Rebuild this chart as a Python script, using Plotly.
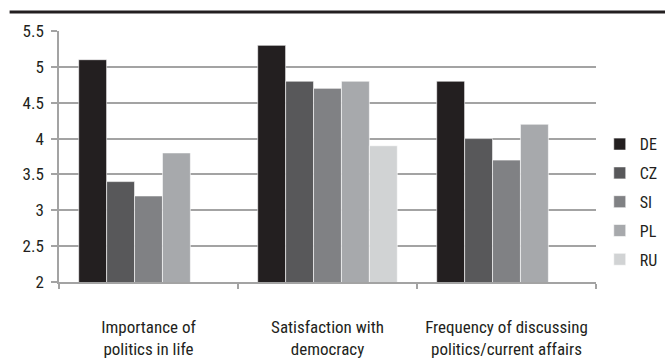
import plotly.graph_objects as go

# Survey items (x categories) and per-country mean scores
categories = [
    "Importance of<br>politics in life",
    "Satisfaction with<br>democracy",
    "Frequency of discussing<br>politics/current affairs",
]
countries = ["DE", "CZ", "SI", "PL", "RU"]
de_values = [5.1, 5.3, 4.8]
cz_values = [3.4, 4.8, 4.0]
si_values = [3.2, 4.7, 3.7]
pl_values = [3.8, 4.8, 4.2]
ru_values = [None, 3.9, None]

y_ticks = [2, 2.5, 3, 3.5, 4, 4.5, 5, 5.5]
y_tick_labels = ["2", "2.5", "3", "3.5", "4", "4.5", "5", "5.5"]

series = [de_values, cz_values, si_values, pl_values, ru_values]
colors = ["#231f20", "#58585a", "#808184", "#a7a9ac", "#d1d3d4"]

FONT = "Roboto Condensed, DejaVu Sans Condensed, sans-serif"
INK = "#231f20"
GRID = "#a3a3a3"

fig = go.Figure()
for name, vals, col in zip(countries, series, colors):
    fig.add_trace(go.Bar(
        name=name,
        x=categories,
        y=vals,
        marker=dict(color=col, line=dict(color="white", width=0.6)),
        legendgroup=name,
    ))

fig.update_layout(
    width=665,
    height=364,
    margin=dict(l=59, r=69, t=31, b=82, autoexpand=False),
    paper_bgcolor="white",
    plot_bgcolor="white",
    barmode="group",
    bargap=0.22,
    bargroupgap=0,
    font=dict(family=FONT, size=16, color=INK),
    showlegend=True,
    legend=dict(
        x=1.007, xanchor="left",
        y=0.32, yanchor="middle",
        font=dict(family=FONT, size=16, color=INK),
        tracegroupgap=5,
        itemwidth=30,
        bgcolor="rgba(0,0,0,0)",
    ),
    xaxis=dict(
        type="category",
        tickson="boundaries",
        ticks="outside",
        ticklen=5,
        tickcolor=GRID,
        tickwidth=1.5,
        showline=True,
        linecolor=GRID,
        linewidth=1.5,
        showgrid=False,
        tickangle=0,
        automargin=False,
        ticklabelstandoff=29,
        tickfont=dict(family=FONT, size=17, color=INK),
    ),
    yaxis=dict(
        range=[2, 5.5],
        tickvals=y_ticks,
        ticktext=y_tick_labels,
        ticks="outside",
        ticklen=6,
        tickcolor=GRID,
        tickwidth=1.5,
        showline=True,
        linecolor=GRID,
        linewidth=1.5,
        showgrid=True,
        gridcolor=GRID,
        gridwidth=1.5,
        zeroline=False,
        automargin=False,
        ticklabelstandoff=4,
        tickfont=dict(family=FONT, size=17, color=INK),
    ),
)

# Heavy rule across the top of the figure
fig.add_shape(
    type="line", xref="paper", yref="paper",
    x0=-0.092, x1=1.13, y0=1.076, y1=1.076,
    line=dict(color=INK, width=3),
)

fig.write_html("out.html")
